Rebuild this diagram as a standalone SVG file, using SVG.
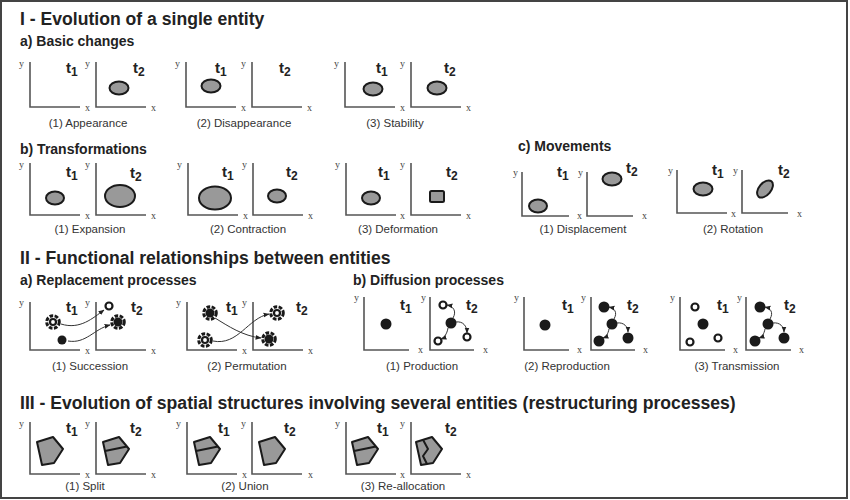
<svg xmlns="http://www.w3.org/2000/svg" width="850" height="500" viewBox="0 0 850 500">
<style>
.ax{fill:none;stroke:#555;stroke-width:1.6}
.lb{font-family:"Liberation Serif",serif;font-size:10px;fill:#444}
.t{font-family:"Liberation Sans",Arial,sans-serif;font-weight:bold;font-size:15px;fill:#222}
.t tspan{font-size:12px}
.cap{font-family:"Liberation Sans",Arial,sans-serif;font-size:11.5px;fill:#333;text-anchor:middle}
.h1{font-family:"Liberation Sans",Arial,sans-serif;font-weight:bold;font-size:17.6px;fill:#222}
.h2{font-family:"Liberation Sans",Arial,sans-serif;font-weight:bold;font-size:14px;fill:#222}
.sh{fill:#999;stroke:#1a1a1a;stroke-width:2;stroke-linejoin:round}
.dv{fill:none;stroke:#1a1a1a;stroke-width:2;stroke-linejoin:round}
.dot{fill:#1a1a1a}
.open{fill:#fff;stroke:#1a1a1a;stroke-width:2.2}
.ring{fill:none;stroke:#1a1a1a;stroke-width:3;stroke-dasharray:3.6 1.5}
.ar{fill:none;stroke:#333;stroke-width:1}
</style>
<defs>
<marker id="ah" viewBox="0 0 10 10" refX="9" refY="5" markerWidth="6" markerHeight="6" markerUnits="userSpaceOnUse" orient="auto"><path d="M0,1 L10,5 L0,9 Z" fill="#222"/></marker>
<path id="pent" class="sh" d="M0,5 L16,0 L26,12 L17,26 L5,28 Z"/>
<g id="dOpen"><circle r="6.3" class="ring"/><circle r="3" class="open"/></g>
<g id="dFill"><circle r="6.3" class="ring"/><circle r="4.5" class="dot"/></g>
</defs>
<rect x="0" y="0" width="850" height="500" fill="#fff"/>
<rect x="1" y="1" width="846" height="497" fill="none" stroke="#444" stroke-width="2"/>

<g id="headings">
<text class="h1" x="20" y="25">I - Evolution of a single entity</text>
<text class="h2" x="20" y="46">a) Basic changes</text>
<text class="h2" x="20" y="154">b) Transformations</text>
<text class="h2" x="518" y="151">c) Movements</text>
<text class="h1" x="20" y="264">II - Functional relationships between entities</text>
<text class="h2" x="20" y="285">a) Replacement processes</text>
<text class="h2" x="353" y="285">b) Diffusion processes</text>
<text class="h1" x="20" y="409">III - Evolution of spatial structures involving several entities (restructuring processes)</text>
</g>

<g id="appearance">
<path class="ax" d="M30 62V107H80M96 62V107H146"/>
<text class="lb" x="19" y="67">y</text><text class="lb" x="85" y="67">y</text>
<text class="lb" x="85" y="111">x</text><text class="lb" x="151" y="111">x</text>
<text class="t" x="66" y="73">t<tspan dy="3">1</tspan></text>
<text class="t" x="133" y="73">t<tspan dy="3">2</tspan></text>
<ellipse class="sh" cx="119" cy="88" rx="9.5" ry="6.5"/>
<text class="cap" x="88" y="127">(1) Appearance</text>
</g>

<g id="disappearance">
<path class="ax" d="M186 62V107H236M252 62V107H302"/>
<text class="lb" x="175" y="67">y</text><text class="lb" x="241" y="67">y</text>
<text class="lb" x="241" y="111">x</text><text class="lb" x="307" y="111">x</text>
<text class="t" x="215" y="73">t<tspan dy="3">1</tspan></text>
<text class="t" x="279" y="73">t<tspan dy="3">2</tspan></text>
<ellipse class="sh" cx="211" cy="86" rx="9.5" ry="6.5"/>
<text class="cap" x="244" y="127">(2) Disappearance</text>
</g>

<g id="stability">
<path class="ax" d="M345 62V107H395M411 62V107H461"/>
<text class="lb" x="334" y="67">y</text><text class="lb" x="400" y="67">y</text>
<text class="lb" x="400" y="111">x</text><text class="lb" x="466" y="111">x</text>
<text class="t" x="376" y="73">t<tspan dy="3">1</tspan></text>
<text class="t" x="444" y="73">t<tspan dy="3">2</tspan></text>
<ellipse class="sh" cx="373" cy="89" rx="9.5" ry="6.5"/>
<ellipse class="sh" cx="437" cy="88" rx="9.5" ry="6.5"/>
<text class="cap" x="395" y="127">(3) Stability</text>
</g>

<g id="expansion">
<path class="ax" d="M30 163V215H80M96 163V215H146"/>
<text class="lb" x="19" y="168">y</text><text class="lb" x="85" y="168">y</text>
<text class="lb" x="85" y="219">x</text><text class="lb" x="151" y="219">x</text>
<text class="t" x="66" y="177">t<tspan dy="3">1</tspan></text>
<text class="t" x="130" y="178">t<tspan dy="3">2</tspan></text>
<ellipse class="sh" cx="55" cy="198" rx="9" ry="6.5"/>
<ellipse class="sh" cx="120" cy="196" rx="15" ry="11"/>
<text class="cap" x="90" y="233">(1) Expansion</text>
</g>

<g id="contraction">
<path class="ax" d="M188 163V215H238M253 163V215H303"/>
<text class="lb" x="177" y="168">y</text><text class="lb" x="242" y="168">y</text>
<text class="lb" x="243" y="219">x</text><text class="lb" x="308" y="219">x</text>
<text class="t" x="222" y="177">t<tspan dy="3">1</tspan></text>
<text class="t" x="286" y="177">t<tspan dy="3">2</tspan></text>
<ellipse class="sh" cx="215" cy="198" rx="16" ry="11.5"/>
<ellipse class="sh" cx="277" cy="196" rx="9" ry="6.5"/>
<text class="cap" x="248" y="233">(2) Contraction</text>
</g>

<g id="deformation">
<path class="ax" d="M346 163V215H396M411 163V215H461"/>
<text class="lb" x="335" y="168">y</text><text class="lb" x="400" y="168">y</text>
<text class="lb" x="400" y="219">x</text><text class="lb" x="466" y="219">x</text>
<text class="t" x="378" y="177">t<tspan dy="3">1</tspan></text>
<text class="t" x="446" y="177">t<tspan dy="3">2</tspan></text>
<ellipse class="sh" cx="371" cy="198" rx="9" ry="6.5"/>
<rect class="sh" x="430" y="191" width="14" height="11" rx="1.5"/>
<text class="cap" x="398" y="233">(3) Deformation</text>
</g>

<g id="displacement">
<path class="ax" d="M522 172V216H569M587 172V216H633"/>
<text class="lb" x="513" y="176">y</text><text class="lb" x="578" y="176">y</text>
<text class="lb" x="577" y="219">x</text><text class="lb" x="642" y="219">x</text>
<text class="t" x="557" y="177">t<tspan dy="3">1</tspan></text>
<text class="t" x="626" y="173">t<tspan dy="3">2</tspan></text>
<ellipse class="sh" cx="538" cy="206" rx="9" ry="6.5"/>
<ellipse class="sh" cx="612" cy="179" rx="9.5" ry="6.5"/>
<text class="cap" x="583" y="233">(1) Displacement</text>
</g>

<g id="rotation">
<path class="ax" d="M677 170V213H727M742 170V213H788"/>
<text class="lb" x="668" y="174">y</text><text class="lb" x="733" y="174">y</text>
<text class="lb" x="731" y="217">x</text><text class="lb" x="797" y="217">x</text>
<text class="t" x="712" y="175">t<tspan dy="3">1</tspan></text>
<text class="t" x="778" y="175">t<tspan dy="3">2</tspan></text>
<ellipse class="sh" cx="703" cy="189" rx="9.5" ry="6.5"/>
<ellipse class="sh" cx="765" cy="189" rx="10" ry="6" transform="rotate(-50 765 189)"/>
<text class="cap" x="733" y="233">(2) Rotation</text>
</g>

<g id="succession">
<path class="ax" d="M30 302V350H80M96 302V350H146"/>
<text class="lb" x="19" y="306">y</text><text class="lb" x="85" y="306">y</text>
<text class="lb" x="85" y="354">x</text><text class="lb" x="151" y="354">x</text>
<text class="t" x="66" y="312">t<tspan dy="3">1</tspan></text>
<text class="t" x="131" y="312">t<tspan dy="3">2</tspan></text>
<use href="#dOpen" x="53" y="322"/>
<circle class="dot" cx="62" cy="340" r="4.5"/>
<circle class="open" cx="109" cy="306" r="3.5"/>
<use href="#dFill" x="118" y="322"/>
<text class="cap" x="90" y="370">(1) Succession</text>
</g>

<g id="permutation">
<path class="ax" d="M187 302V350H237M253 302V350H303"/>
<text class="lb" x="176" y="306">y</text><text class="lb" x="242" y="306">y</text>
<text class="lb" x="242" y="354">x</text><text class="lb" x="308" y="354">x</text>
<text class="t" x="226" y="312">t<tspan dy="3">1</tspan></text>
<text class="t" x="296" y="312">t<tspan dy="3">2</tspan></text>
<use href="#dFill" x="210" y="313"/>
<use href="#dOpen" x="205" y="340"/>
<use href="#dOpen" x="277" y="313"/>
<use href="#dFill" x="269" y="339"/>
<text class="cap" x="247" y="370">(2) Permutation</text>
</g>

<g id="production">
<path class="ax" d="M364 297V350H409M430 297V350H474"/>
<text class="lb" x="354" y="301">y</text><text class="lb" x="421" y="301">y</text>
<text class="lb" x="418" y="353">x</text><text class="lb" x="483" y="353">x</text>
<text class="t" x="400" y="310">t<tspan dy="3">1</tspan></text>
<text class="t" x="466" y="310">t<tspan dy="3">2</tspan></text>
<circle class="dot" cx="386" cy="324" r="5.5"/>
<circle class="dot" cx="451" cy="323" r="5.5"/>
<circle class="open" cx="443" cy="305" r="3.5"/>
<circle class="open" cx="467" cy="337" r="3.5"/>
<circle class="open" cx="438" cy="341" r="3.5"/>
<text class="cap" x="422" y="370">(1) Production</text>
</g>

<g id="reproduction">
<path class="ax" d="M524 297V350H569M591 297V350H635"/>
<text class="lb" x="514" y="301">y</text><text class="lb" x="581" y="301">y</text>
<text class="lb" x="577" y="353">x</text><text class="lb" x="643" y="353">x</text>
<text class="t" x="562" y="310">t<tspan dy="3">1</tspan></text>
<text class="t" x="627" y="310">t<tspan dy="3">2</tspan></text>
<circle class="dot" cx="545" cy="325" r="5.5"/>
<circle class="dot" cx="612" cy="324" r="5.5"/>
<circle class="dot" cx="604" cy="307" r="5.5"/>
<circle class="dot" cx="628" cy="338" r="5.5"/>
<circle class="dot" cx="599" cy="341" r="5.5"/>
<text class="cap" x="567" y="370">(2) Reproduction</text>
</g>

<g id="transmission">
<path class="ax" d="M680 297V350H725M746 297V350H791"/>
<text class="lb" x="670" y="301">y</text><text class="lb" x="737" y="301">y</text>
<text class="lb" x="733" y="353">x</text><text class="lb" x="799" y="353">x</text>
<text class="t" x="717" y="310">t<tspan dy="3">1</tspan></text>
<text class="t" x="784" y="310">t<tspan dy="3">2</tspan></text>
<circle class="open" cx="695" cy="307" r="3.5"/>
<circle class="dot" cx="703" cy="324" r="5.5"/>
<circle class="open" cx="690" cy="342" r="3.5"/>
<circle class="open" cx="718" cy="338" r="3.5"/>
<circle class="dot" cx="768" cy="324" r="5.5"/>
<circle class="dot" cx="760" cy="307" r="5.5"/>
<circle class="dot" cx="784" cy="338" r="5.5"/>
<circle class="dot" cx="755" cy="341" r="5.5"/>
<text class="cap" x="737" y="370">(3) Transmission</text>
</g>

<g id="split">
<path class="ax" d="M30 422V474H80M96 422V474H146"/>
<text class="lb" x="19" y="427">y</text><text class="lb" x="85" y="427">y</text>
<text class="lb" x="85" y="478">x</text><text class="lb" x="151" y="478">x</text>
<text class="t" x="66" y="433">t<tspan dy="3">1</tspan></text>
<text class="t" x="130" y="433">t<tspan dy="3">2</tspan></text>
<use href="#pent" x="37" y="437"/>
<use href="#pent" x="103" y="437"/>
<path class="dv" d="M105 451L127 446.6"/>
<text class="cap" x="85" y="490">(1) Split</text>
</g>

<g id="union">
<path class="ax" d="M187 422V474H237M252 422V474H302"/>
<text class="lb" x="176" y="427">y</text><text class="lb" x="241" y="427">y</text>
<text class="lb" x="242" y="478">x</text><text class="lb" x="308" y="478">x</text>
<text class="t" x="218" y="433">t<tspan dy="3">1</tspan></text>
<text class="t" x="284" y="433">t<tspan dy="3">2</tspan></text>
<use href="#pent" x="194" y="437"/>
<path class="dv" d="M196 451L218 446.6"/>
<use href="#pent" x="259" y="437"/>
<text class="cap" x="245" y="490">(2) Union</text>
</g>

<g id="reallocation">
<path class="ax" d="M346 422V474H396M411 422V474H461"/>
<text class="lb" x="335" y="427">y</text><text class="lb" x="400" y="427">y</text>
<text class="lb" x="400" y="478">x</text><text class="lb" x="466" y="478">x</text>
<text class="t" x="377" y="433">t<tspan dy="3">1</tspan></text>
<text class="t" x="445" y="433">t<tspan dy="3">2</tspan></text>
<use href="#pent" x="352" y="437"/>
<path class="dv" d="M354 451L376 446.6"/>
<use href="#pent" x="416" y="437"/>
<path class="dv" d="M423 439.8L428 449L423 456L427 464"/>
<text class="cap" x="403" y="490">(3) Re-allocation</text>
</g>

<g id="connectors" class="ar">
<path d="M61 324C80 330 93 318 104 310" marker-end="url(#ah)"/>
<path d="M68 341C86 344 94 329 110 325" marker-end="url(#ah)"/>
<path d="M215 318C228 326 243 336 261 338" marker-end="url(#ah)"/>
<path d="M213 341C238 346 248 318 269 314" marker-end="url(#ah)"/>
<g transform="translate(451 323)">
<path d="M2 -5C6 -12 2 -17 -4 -18" marker-end="url(#ah)"/>
<path d="M5 -1C12 -2 16 3 16 10" marker-end="url(#ah)"/>
<path d="M-3 5C-4 11 -7 15 -10 16" marker-end="url(#ah)"/>
</g>
<g transform="translate(612 324)">
<path d="M2 -5C6 -12 2 -16 -3 -17" marker-end="url(#ah)"/>
<path d="M5 -1C12 -2 16 3 16 8" marker-end="url(#ah)"/>
<path d="M-3 5C-4 10 -6 13 -9 14" marker-end="url(#ah)"/>
</g>
<g transform="translate(768 324)">
<path d="M2 -5C6 -12 2 -16 -3 -17" marker-end="url(#ah)"/>
<path d="M5 -1C12 -2 16 3 16 8" marker-end="url(#ah)"/>
<path d="M-3 5C-4 10 -6 13 -9 14" marker-end="url(#ah)"/>
</g>
</g>
</svg>
